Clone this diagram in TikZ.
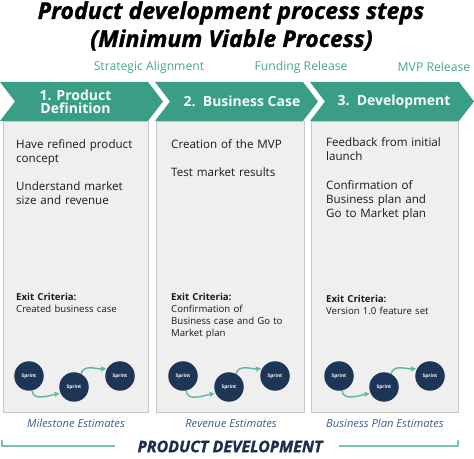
\documentclass[tikz,border=0pt]{standalone}
\usepackage{fontspec}
\setmainfont{Open Sans}
\newfontfamily\heavyfont[BoldItalicFeatures={FakeBold=1.2}]{Open Sans}
\usetikzlibrary{arrows.meta}
\definecolor{chevteal}{HTML}{3A9E86}
\definecolor{labteal}{HTML}{46A68E}
\definecolor{arrteal}{HTML}{62B59F}
\definecolor{brteal}{HTML}{7CC2B0}
\definecolor{navy}{HTML}{1D3557}
\definecolor{slate}{HTML}{3F5F86}
\definecolor{panelfill}{HTML}{EFEFEF}
\definecolor{panelline}{HTML}{C8C8C8}
\newcommand\chevshape[2]{(#1,376) -- (#2,376) -- ({#2+15},356.5) -- (#2,337) -- (#1,337) -- ({#1+15},356.5) -- cycle}
\tikzset{
  panelbox/.style={draw=panelline, fill=panelfill, line width=1.2pt, anchor=north west, inner sep=0pt, minimum height=291pt},
  chevtext/.style={text=white!96!teal, font=\fontsize{14}{13}\selectfont\bfseries, align=center, inner sep=0pt},
  toplabel/.style={text=labteal, font=\fontsize{12.2}{13}\selectfont, inner sep=0pt},
  bodytext/.style={anchor=base west, align=left, text width=145pt, inner sep=0pt, font=\fontsize{11.6}{14}\selectfont, text=black!90},
  exittext/.style={anchor=base west, align=left, text width=145pt, inner sep=0pt, font=\fontsize{9.6}{12}\selectfont, text=black!90},
  sprint/.style={circle, fill=navy, minimum size=29.5pt, inner sep=0pt, text=white, font=\fontsize{4.8}{5}\selectfont\bfseries},
  sarrow/.style={draw=arrteal, line width=1.4pt, -{Stealth[length=5.5pt,width=5.5pt]}, shorten >=1pt},
  estlabel/.style={text=slate, font=\fontsize{11.2}{12}\selectfont\itshape, inner sep=0pt},
  bracket/.style={draw=brteal, line width=1.2pt}
}
\begin{document}
\begin{tikzpicture}[x=1pt,y=1pt]
\useasboundingbox (0,0) rectangle (474,458);
% title
\node[anchor=base, font=\heavyfont\fontsize{23.2}{27}\selectfont\bfseries\itshape, inner sep=0pt] (t1) at (231,439) {Product development process steps};
\node[anchor=base, font=\heavyfont\fontsize{23.2}{27}\selectfont\bfseries\itshape, inner sep=0pt] (t2) at (231.5,411) {(Minimum Viable Process)};
% milestone labels
\node[toplabel] (m1) at (149,391) {Strategic Alignment};
\node[toplabel] (m2) at (301,391) {Funding Release};
\node[toplabel] (m3) at (434,391) {MVP Release};
% panels
\node[panelbox, minimum width=145pt] (p1) at (3,337) {};
\node[panelbox, minimum width=148pt] (p2) at (156,337) {};
\node[panelbox, minimum width=147pt] (p3) at (311,337) {};
% chevrons
\fill[chevteal] \chevshape{0}{148};
\fill[chevteal] \chevshape{155}{303};
\fill[chevteal] \chevshape{310}{459};
\node[chevtext] (c1) at (75.5,356.5) {1. Product\\Definition};
\node[chevtext] (c2) at (242,356.5) {2.\ \ Business Case};
\node[chevtext] (c3) at (394,356.5) {3.\ \ Development};
% panel 1 text
\node[bodytext] (b11) at (16,309) {Have refined product\\concept};
\node[bodytext] (b12) at (16,267) {Understand market\\size and revenue};
\node[exittext] (e1) at (16,157) {\textbf{Exit Criteria:}\\Created business case};
% panel 2 text
\node[bodytext] (b21) at (171,309) {Creation of the MVP};
\node[bodytext] (b22) at (171,281) {Test market results};
\node[exittext] (e2) at (171,157) {\textbf{Exit Criteria:}\\Confirmation of\\Business case and Go to\\Market plan};
% panel 3 text
\node[bodytext] (b31) at (326,311) {Feedback from initial\\launch};
\node[bodytext] (b32) at (326,268) {Confirmation of\\Business plan and\\Go to Market plan};
\node[exittext] (e3) at (326,155) {\textbf{Exit Criteria:}\\Version 1.0 feature set};
% sprints
\foreach \i/\a/\b/\c in {1/29/74/120, 2/183/229/275, 3/339/384/430} {
  \node[sprint] (s\i a) at (\a,82) {Sprint};
  \node[sprint] (s\i b) at (\b,71) {Sprint};
  \node[sprint] (s\i c) at (\c,82) {Sprint};
  \draw[sarrow] (s\i a.-78) to[out=-85,in=190] (s\i b.205);
  \draw[sarrow] (s\i b.62) to[out=75,in=185] (s\i c.150);
}
% estimates
\node[estlabel] (x1) at (76,35) {Milestone Estimates};
\node[estlabel] (x2) at (231,35) {Revenue Estimates};
\node[estlabel] (x3) at (385,35) {Business Plan Estimates};
% bottom bracket
\node[font=\heavyfont\fontsize{16}{18}\selectfont\bfseries\itshape, text=navy!90!black, inner sep=0pt] (pd) at (230,11.5) {PRODUCT DEVELOPMENT};
\coordinate (bl) at (2,18);
\coordinate (br) at (458,18);
\draw[bracket] (bl) |- ([xshift=-22pt]pd.west |- 0,12);
\draw[bracket] (br) |- ([xshift=16pt]pd.east |- 0,12);
\end{tikzpicture}
\end{document}
